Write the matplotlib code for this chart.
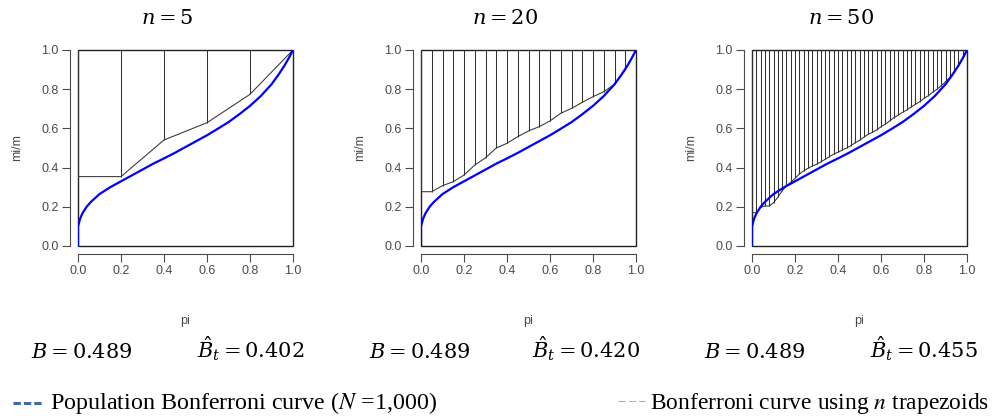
import numpy as np
import matplotlib
matplotlib.use("Agg")
import matplotlib.pyplot as plt
from matplotlib.patches import Rectangle
from matplotlib.lines import Line2D

# population Bonferroni curve
pop_p = [0.0, 0.0, 0.005, 0.01, 0.02, 0.04, 0.06, 0.08, 0.10, 0.15, 0.20,
         0.25, 0.30, 0.35, 0.40, 0.45, 0.50, 0.55, 0.60, 0.65, 0.70, 0.75,
         0.80, 0.85, 0.90, 0.93, 0.96, 0.98, 1.0]
pop_b = [0.0, 0.10, 0.12, 0.14, 0.165, 0.20, 0.225, 0.245, 0.265, 0.30, 0.33,
         0.36, 0.39, 0.42, 0.447, 0.475, 0.505, 0.535, 0.565, 0.598, 0.632, 0.672,
         0.715, 0.765, 0.825, 0.87, 0.92, 0.958, 1.0]

# trapezoid curves, one value per grid point k/n
trap_5 = [0.354, 0.354, 0.541, 0.629, 0.774, 1.0]
trap_20 = [0.277, 0.277, 0.308, 0.328, 0.362, 0.413, 0.45, 0.50, 0.524, 0.558,
           0.587, 0.609, 0.638, 0.677, 0.702, 0.733, 0.762, 0.787, 0.825, 0.898,
           1.0]
trap_50 = [0.170, 0.170, 0.197, 0.204, 0.204, 0.221, 0.248, 0.282, 0.306, 0.325,
           0.345, 0.367, 0.383, 0.396, 0.408, 0.417, 0.429, 0.442, 0.456, 0.469,
           0.478, 0.490, 0.500, 0.512, 0.527, 0.539, 0.555, 0.570, 0.580, 0.592,
           0.609, 0.621, 0.638, 0.655, 0.668, 0.682, 0.694, 0.709, 0.723, 0.736,
           0.753, 0.767, 0.784, 0.799, 0.818, 0.838, 0.859, 0.889, 0.920, 0.957,
           1.0]

n_values = [5, 20, 50]
traps = [trap_5, trap_20, trap_50]
b_pop = ["0.489", "0.489", "0.489"]
b_hat = ["0.402", "0.420", "0.455"]
ticks = [0.0, 0.2, 0.4, 0.6, 0.8, 1.0]
tick_labels = ["0.0", "0.2", "0.4", "0.6", "0.8", "1.0"]

plt.rcParams["font.family"] = ["Liberation Sans", "DejaVu Sans"]

fig = plt.figure(figsize=(9.99, 4.16), dpi=100)

W, H = 999.0, 416.0
lefts = [78, 421, 752]
title_x = [167, 505, 841]
bpop_x = [82, 420, 755]
bhat_x = [251, 586, 924]

axis_col = "#4a4a4a"

for i, n in enumerate(n_values):
    ax = fig.add_axes([lefts[i] / W, (H - 246) / H, 215 / W, 196 / H])
    grid = np.linspace(0, 1, n + 1)
    t = traps[i]

    # trapezoid sides up to 1
    ax.vlines(grid[:-1], t[:-1], 1.0, color="#333333", lw=0.75)
    ax.plot(grid, t, color="#333333", lw=0.75)
    ax.plot(pop_p, pop_b, color="#0000ff", lw=1.6)

    ax.set_xlim(0, 1)
    ax.set_ylim(0, 1)
    ax.add_patch(Rectangle((0, 0), 1, 1, transform=ax.transAxes,
                           fill=False, lw=1.0, ec="#222222", clip_on=False))

    for s in ["top", "right"]:
        ax.spines[s].set_visible(False)
    for s in ["left", "bottom"]:
        ax.spines[s].set_position(("outward", 6))
        ax.spines[s].set_color(axis_col)
        ax.spines[s].set_linewidth(0.8)

    ax.set_xticks(ticks)
    ax.set_xticklabels(tick_labels)
    ax.set_yticks(ticks)
    ax.set_yticklabels(tick_labels)
    ax.tick_params(length=6, width=0.8, color=axis_col, labelcolor=axis_col,
                   labelsize=9, pad=2)

    ax.set_xlabel("pi", fontsize=9, color=axis_col, labelpad=27)
    ax.set_ylabel("mi/m", fontsize=9, color=axis_col, labelpad=13)

    fig.text(title_x[i] / W, 1 - 18 / H, r"$n = %d$" % n,
             ha="center", va="center", fontsize=15, math_fontfamily="dejavuserif")
    fig.text(bpop_x[i] / W, 1 - 358 / H, r"$B = %s$" % b_pop[i],
             ha="center", va="baseline", fontsize=15, math_fontfamily="dejavuserif")
    fig.text(bhat_x[i] / W, 1 - 358 / H, r"$\hat{B}_t = %s$" % b_hat[i],
             ha="center", va="baseline", fontsize=15, math_fontfamily="dejavuserif")

# legend entries at the bottom
fig.add_artist(Line2D([13 / W, 42 / W], [1 - 403 / H] * 2, transform=fig.transFigure,
                      color="#3d6aa3", lw=2.2, dashes=(2.4, 1.0)))
fig.text(50 / W, 1 - 409 / H, r"Population Bonferroni curve ($N$ =1,000)",
         family="Liberation Serif", fontsize=17.3, va="baseline",
         math_fontfamily="stix")
fig.add_artist(Line2D([618 / W, 645 / W], [1 - 401 / H] * 2, transform=fig.transFigure,
                      color="#b0b0b0", lw=0.8, dashes=(6.5, 2.8)))
fig.text(650 / W, 1 - 409 / H, r"Bonferroni curve using $n$ trapezoids",
         family="Liberation Serif", fontsize=16.9, va="baseline",
         math_fontfamily="stix")

fig.savefig("out.png", dpi=100)
